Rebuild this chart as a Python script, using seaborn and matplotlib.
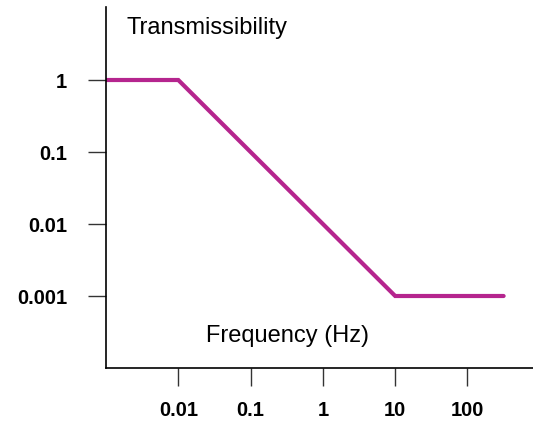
import matplotlib
matplotlib.use("Agg")
import matplotlib.pyplot as plt
import seaborn as sns
import pandas as pd

# Transmissibility curve of an isolator, piecewise on log-log axes
freq_hz = [0.001, 0.01, 10, 316]
transmissibility = [1, 1, 0.001, 0.001]

x_ticks = [0.01, 0.1, 1, 10, 100]
x_tick_labels = ["0.01", "0.1", "1", "10", "100"]
y_ticks = [1, 0.1, 0.01, 0.001]
y_tick_labels = ["1", "0.1", "0.01", "0.001"]

sns.set_style("white")
plt.rcParams["font.family"] = ["Liberation Sans", "DejaVu Sans"]

fig = plt.figure(figsize=(5.33, 4.22), dpi=100)
ax = fig.add_axes([106 / 533, 54 / 422, 427 / 533, 361 / 422])

df = pd.DataFrame({"freq": freq_hz, "T": transmissibility})
sns.lineplot(data=df, x="freq", y="T", ax=ax, color="#B5258E", linewidth=3,
             solid_joinstyle="miter")

ax.set_xscale("log")
ax.set_yscale("log")
ax.set_xlim(0.001, 10 ** 2.906)
ax.set_ylim(1e-4, 10 ** 1.014)

ax.set_xticks(x_ticks)
ax.set_xticklabels(x_tick_labels, fontsize=14.5, fontweight="bold")
ax.set_yticks(y_ticks)
ax.set_yticklabels(y_tick_labels, fontsize=14.5, fontweight="bold")
ax.minorticks_off()
ax.tick_params(axis="both", which="major", direction="out", length=13,
               width=1.0, color="#333333", labelcolor="black",
               bottom=True, left=True)
ax.tick_params(axis="y", pad=15)
ax.tick_params(axis="x", pad=11)

for side in ["top", "right"]:
    ax.spines[side].set_visible(False)
for side in ["left", "bottom"]:
    ax.spines[side].set_color("black")
    ax.spines[side].set_linewidth(1.2)

ax.set_xlabel("")
ax.set_ylabel("")

ax.text(0.049, 0.941, "Transmissibility", transform=ax.transAxes,
        fontsize=17, ha="left", va="center", color="black")
ax.text(0.424, 0.090, "Frequency (Hz)", transform=ax.transAxes,
        fontsize=17, ha="center", va="center", color="black")

fig.savefig("out.png", dpi=100)
